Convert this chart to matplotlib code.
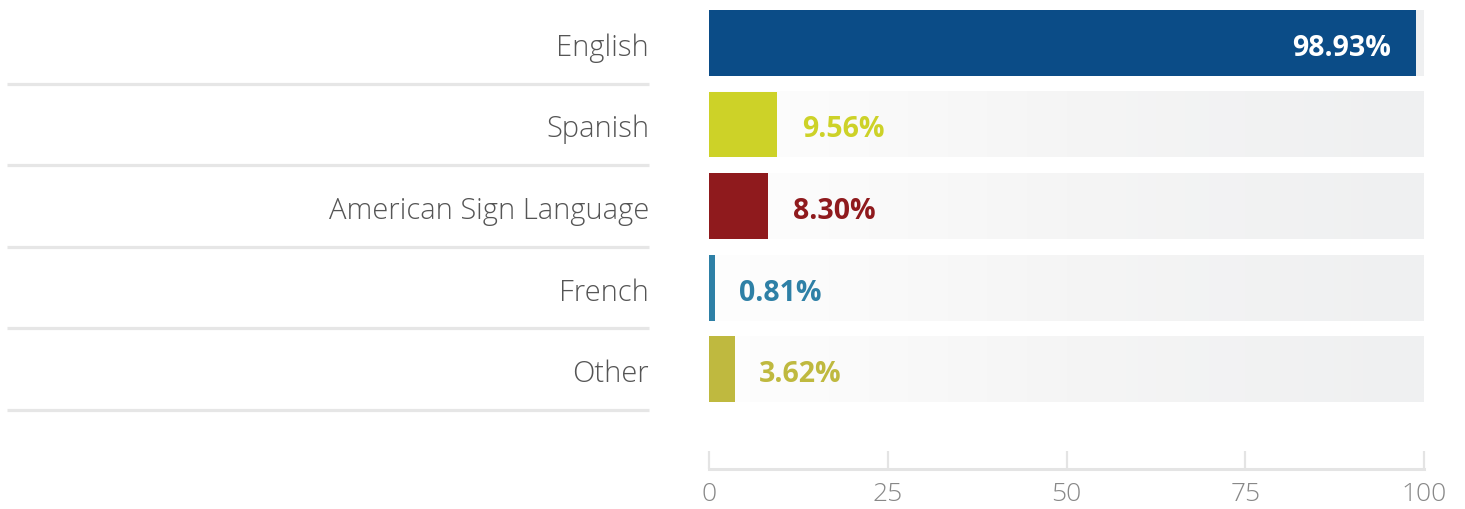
import matplotlib
matplotlib.use("Agg")
import matplotlib.pyplot as plt
import matplotlib.transforms as mtransforms
from matplotlib.colors import LinearSegmentedColormap
import numpy as np

categories = ["English", "Spanish", "American Sign Language", "French", "Other"]
values = [98.93, 9.56, 8.30, 0.81, 3.62]
value_labels = ["98.93%", "9.56%", "8.30%", "0.81%", "3.62%"]
colors = ["#0b4c87", "#cdd228", "#8f1a1d", "#2e80a6", "#bfb93f"]
label_inside = [True, False, False, False, False]
xticks = [0, 25, 50, 75, 100]

W, H = 1465, 510
fig = plt.figure(figsize=(W / 100, H / 100), dpi=100)
fig.patch.set_facecolor("white")

ax = fig.add_axes([709 / W, (H - 470) / H, 715 / W, 470 / H])
n = len(categories)
ypos = np.arange(n)
bar_h = 0.807
ylim = (5.223, -0.538)

# gradient background bars
grad = np.linspace(0, 1, 256).reshape(1, -1)
cmap = LinearSegmentedColormap.from_list("bg", ["#fefefe", "#f5f5f5", "#eff0f1"])
for y in ypos:
    ax.imshow(grad, cmap=cmap, aspect="auto",
              extent=(0, 100, y + bar_h / 2, y - bar_h / 2), zorder=1,
              interpolation="bilinear")
ax.set_xlim(0, 100)
ax.set_ylim(*ylim)

ax.barh(ypos, values, height=bar_h, color=colors, zorder=2, linewidth=0)

base_off = -8.6  # points, baseline below row centre
for y, v, lab, c, inside in zip(ypos, values, value_labels, colors, label_inside):
    if inside:
        ax.annotate(lab, xy=(v, y), xytext=(-18, base_off), textcoords="offset points",
                    ha="right", va="baseline", color="white", fontsize=20.5,
                    fontweight="bold", family="Open Sans", zorder=3)
    else:
        ax.annotate(lab, xy=(v, y), xytext=(17.5, base_off), textcoords="offset points",
                    ha="left", va="baseline", color=c, fontsize=20.5,
                    fontweight="bold", family="Open Sans", zorder=3)

# category labels and separators on the left
blend = mtransforms.blended_transform_factory(fig.transFigure, ax.transData)
for y, cat in zip(ypos, categories):
    ax.annotate(cat, xy=(649 / W, y), xycoords=blend, xytext=(0, base_off),
                textcoords="offset points", ha="right", va="baseline",
                fontsize=21, color="#555555", family="Open Sans",
                fontweight="light", annotation_clip=False)
    ax.plot([7 / W, 649 / W], [y + 0.5, y + 0.5], transform=blend,
            color="#e6e6e6", lw=2.3, clip_on=False, solid_capstyle="butt")

for s in ["top", "right", "left"]:
    ax.spines[s].set_visible(False)
ax.spines["bottom"].set_color("#e4e4e4")
ax.spines["bottom"].set_linewidth(2.2)
ax.set_yticks([])
ax.set_xticks(xticks)
ax.set_xticklabels([str(t) for t in xticks])
ax.tick_params(axis="x", direction="in", length=13, width=1.6, color="#e4e4e4",
               pad=9, labelsize=19, labelcolor="#888888")
for t in ax.get_xticklabels():
    t.set_family("Open Sans")
    t.set_fontweight("light")

fig.savefig("out.png", dpi=100, facecolor="white")
